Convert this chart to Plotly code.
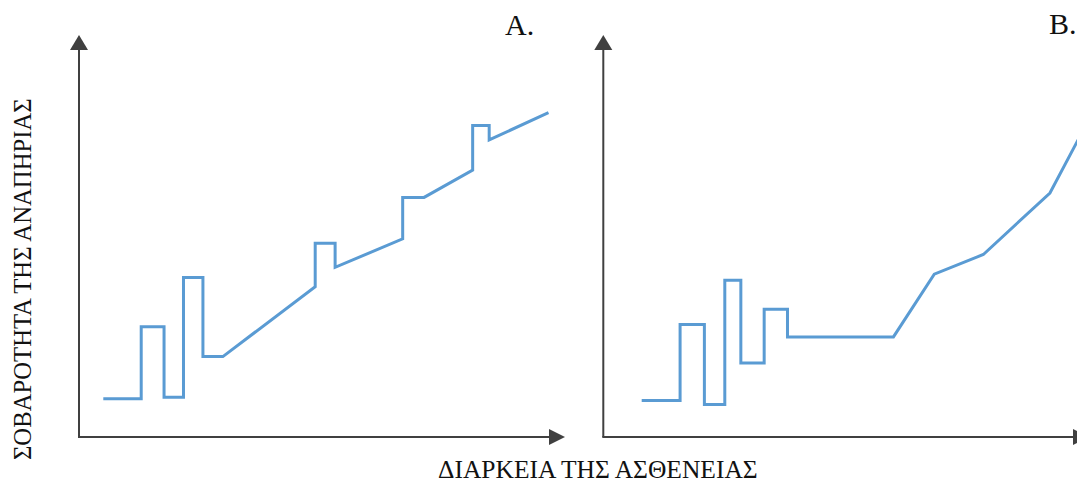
import plotly.graph_objects as go

# ---- data (duration on x, severity on y, both in 0-100 units) ----
a_duration = [5, 12.8, 12.8, 17.5, 17.5, 21.5, 21.5, 25.5, 25.5, 29.6, 48.6, 48.6,
              52.7, 52.7, 66.6, 66.6, 71.0, 81.0, 81.0, 84.4, 84.4, 96.6]
a_severity = [9.5, 9.5, 27.4, 27.4, 9.9, 9.9, 39.7, 39.7, 20.0, 20.0, 37.4, 48.2,
              48.2, 42.2, 49.3, 59.6, 59.6, 66.4, 77.5, 77.5, 73.9, 80.7]

b_duration = [7.9, 15.8, 15.8, 20.8, 20.8, 25.0, 25.0, 28.3, 28.3, 33.1, 33.1, 37.9,
              37.9, 59.7, 68.1, 78.2, 91.9, 100.0]
b_severity = [9.1, 9.1, 28.0, 28.0, 8.1, 8.1, 39.0, 39.0, 18.4, 18.4, 31.8, 31.8,
              24.9, 24.9, 40.5, 45.4, 60.7, 79.2]

panel_labels = ["A.", "B."]
x_title = "ΔΙΑΡΚΕΙΑ ΤΗΣ ΑΣΘΕΝΕΙΑΣ"
y_title = "ΣΟΒΑΡΟΤΗΤΑ ΤΗΣ ΑΝΑΠΗΡΙΑΣ"

OFF = 8  # page body margin
W, H = 1085 - OFF, 484 - OFF
LINE = "#5A9BD3"
AX = "#404040"
FONT = "Liberation Serif, Times New Roman, serif"


def X(px):
    return (px - OFF) / W


def Y(py):
    return 1 - (py - OFF) / H


fig = go.Figure()
fig.add_trace(go.Scatter(x=a_duration, y=a_severity, mode="lines",
                         line=dict(color=LINE, width=3), xaxis="x", yaxis="y",
                         showlegend=False, hoverinfo="skip"))
fig.add_trace(go.Scatter(x=b_duration, y=b_severity, mode="lines",
                         line=dict(color=LINE, width=3), xaxis="x2", yaxis="y2",
                         showlegend=False, hoverinfo="skip"))

ydom = [Y(437), Y(35)]
axis_common = dict(visible=False, fixedrange=True)
fig.update_layout(
    width=W, height=H,
    margin=dict(l=0, r=0, t=0, b=0),
    paper_bgcolor="white", plot_bgcolor="rgba(0,0,0,0)",
    xaxis=dict(domain=[X(79), X(565)], range=[0, 100], **axis_common),
    yaxis=dict(domain=ydom, range=[0, 100], **axis_common),
    xaxis2=dict(domain=[X(603.3), 1.0], range=[0, 100 * (1085 - 603.3) / 486],
                anchor="y2", **axis_common),
    yaxis2=dict(domain=ydom, range=[0, 100], anchor="x2", **axis_common),
)

shapes = []
for ox, tipx in [(79, 565), (603.3, 1089)]:
    shapes.append(dict(type="line", xref="paper", yref="paper",
                       x0=X(ox), x1=X(ox), y0=Y(437), y1=Y(48),
                       line=dict(color=AX, width=2)))
    shapes.append(dict(type="line", xref="paper", yref="paper",
                       x0=X(ox - 1), x1=X(tipx - 14), y0=Y(437), y1=Y(437),
                       line=dict(color=AX, width=2)))
    shapes.append(dict(type="path", xref="paper", yref="paper",
                       path=f"M{X(ox)},{Y(35)} L{X(ox - 9)},{Y(50)} L{X(ox + 9)},{Y(50)} Z",
                       fillcolor=AX, line=dict(width=0)))
    shapes.append(dict(type="path", xref="paper", yref="paper",
                       path=f"M{X(tipx)},{Y(437)} L{X(tipx - 16)},{Y(429)} L{X(tipx - 16)},{Y(445)} Z",
                       fillcolor=AX, line=dict(width=0)))
fig.update_layout(shapes=shapes)

common = dict(xref="paper", yref="paper", showarrow=False,
              xanchor="center", yanchor="middle")
annotations = [
    dict(text=panel_labels[0], x=X(519), y=Y(25),
         font=dict(family=FONT, size=30, color="#111111"), **common),
    dict(text=panel_labels[1], x=X(1063), y=Y(24),
         font=dict(family=FONT, size=30, color="#111111"), **common),
    dict(text=x_title, x=X(598), y=Y(469),
         font=dict(family=FONT, size=25.5, color="#111111"), **common),
    dict(text=y_title, x=X(22), y=Y(279), textangle=-90,
         font=dict(family=FONT, size=24.7, color="#111111"), **common),
]
fig.update_layout(annotations=annotations)

fig.write_html("out.html")
